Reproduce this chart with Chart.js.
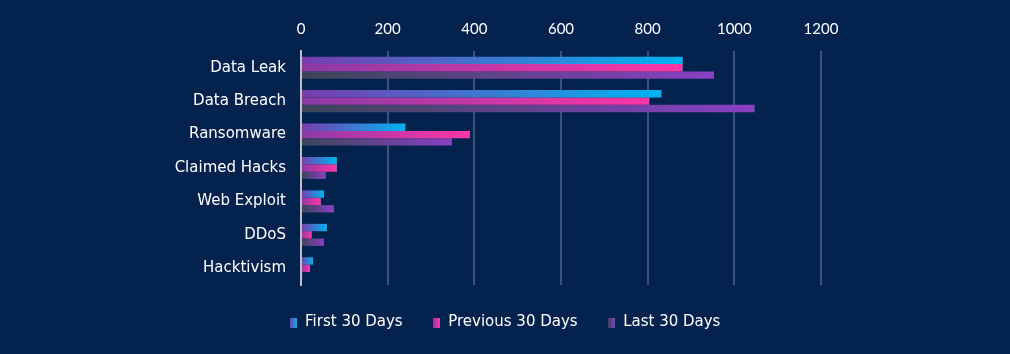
<!DOCTYPE html>
<html lang="en">
<head>
    <meta charset="UTF-8">
    <title>Incident Types</title>
    <script src="https://cdn.jsdelivr.net/npm/chart.js"></script>
    <style>
        html, body { margin: 0; padding: 0; background: #03224e; }
        #wrap { width: 1010px; height: 354px; }
    </style>
</head>
<body>
    <div id="wrap"><canvas id="incidentChart" width="1010" height="354"></canvas></div>

    <script>
        const categories = ['Data Leak', 'Data Breach', 'Ransomware', 'Claimed Hacks', 'Web Exploit', 'DDoS', 'Hacktivism'];
        const firstDays = [881, 832, 241, 83, 53, 60, 28];
        const previousDays = [881, 804, 390, 83, 46, 25, 21];
        const lastDays = [953, 1047, 348, 57, 76, 53, 3];

        // left colour -> right colour of each bar
        const gradients = [
            ['#7a3cae', '#00b4f2'],
            ['#8a3aa6', '#ff36a6'],
            ['#3a4658', '#8a40c4']
        ];

        function barGradient(ctx) {
            const chart = ctx.chart;
            const x = chart.scales.x;
            const fallback = gradients[ctx.datasetIndex][1];
            if (!x || !ctx.parsed) return fallback;
            const x0 = x.getPixelForValue(0);
            let x1 = x.getPixelForValue(ctx.parsed.x);
            if (!isFinite(x0) || !isFinite(x1)) return fallback;
            if (x1 - x0 < 1) x1 = x0 + 1;
            const g = chart.ctx.createLinearGradient(x0, 0, x1, 0);
            g.addColorStop(0, gradients[ctx.datasetIndex][0]);
            g.addColorStop(1, gradients[ctx.datasetIndex][1]);
            return g;
        }

        function legendBox(i) {
            const c = document.createElement('canvas');
            c.width = 7;
            c.height = 10;
            const cx = c.getContext('2d');
            const g = cx.createLinearGradient(0, 0, 7, 0);
            g.addColorStop(0, gradients[i][0]);
            g.addColorStop(1, gradients[i][1]);
            cx.fillStyle = g;
            cx.fillRect(0, 0, 7, 10);
            return c;
        }

        const labelFont = '"DejaVu Sans", sans-serif';
        const tickFont = 'Lato, "DejaVu Sans", sans-serif';
        const names = ['First 30 Days', 'Previous 30 Days', 'Last 30 Days'];
        const series = [firstDays, previousDays, lastDays];

        new Chart(document.getElementById('incidentChart'), {
            type: 'bar',
            data: {
                labels: categories,
                datasets: series.map((d, i) => ({
                    label: names[i],
                    data: d,
                    backgroundColor: barGradient,
                    borderWidth: 0,
                    pointStyle: legendBox(i),
                    barPercentage: 1,
                    categoryPercentage: 0.66
                }))
            },
            options: {
                indexAxis: 'y',
                responsive: false,
                animation: false,
                layout: { padding: { left: 0, right: 0, top: 0, bottom: 14 } },
                scales: {
                    x: {
                        position: 'top',
                        min: 0,
                        max: 1200,
                        ticks: {
                            stepSize: 200,
                            color: '#ffffff',
                            font: { family: tickFont, size: 15 },
                            padding: 13,
                            callback: v => String(v)
                        },
                        grid: {
                            color: c => c.tick && c.tick.value === 0 ? '#bfbfbf' : '#3b5279',
                            lineWidth: 2,
                            drawTicks: false
                        },
                        border: { display: false },
                        afterFit: s => { s.height = 51; }
                    },
                    y: {
                        ticks: { color: '#ffffff', font: { family: labelFont, size: 15 }, padding: 15 },
                        grid: { display: false, drawTicks: false },
                        border: { color: '#bfbfbf', width: 2 },
                        afterFit: s => { s.width = 301; }
                    },
                    // empty right gutter so the legend centres on the full width
                    gutter: {
                        type: 'category',
                        position: 'right',
                        ticks: { display: false },
                        grid: { display: false, drawTicks: false },
                        border: { display: false },
                        afterFit: s => { s.width = 189; }
                    }
                },
                plugins: {
                    legend: {
                        position: 'bottom',
                        labels: {
                            color: '#ffffff',
                            font: { family: labelFont, size: 15 },
                            usePointStyle: true,
                            boxHeight: 10,
                            pointStyleWidth: 8,
                            padding: 30
                        }
                    },
                    tooltip: { enabled: false }
                }
            }
        });
    </script>
</body>
</html>
